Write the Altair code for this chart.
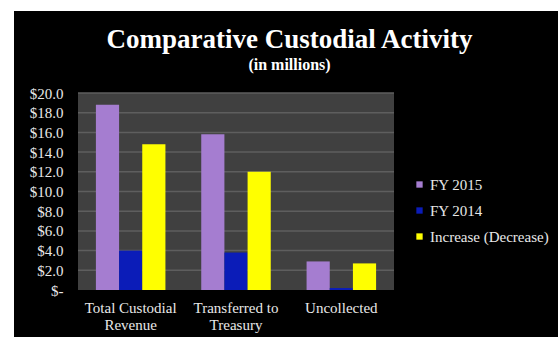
import altair as alt
import pandas as pd

categories = ["Total Custodial\nRevenue", "Transferred to\nTreasury", "Uncollected"]
series = ["FY 2015", "FY 2014", "Increase (Decrease)"]
fy2015 = [18.8, 15.8, 2.9]
fy2014 = [4.0, 3.8, 0.2]
increase = [14.8, 12.0, 2.7]
colors = ["#a57dd0", "#0b1cb8", "#ffff00"]
y_ticks = [0, 2, 4, 6, 8, 10, 12, 14, 16, 18, 20]
title_text = "Comparative Custodial Activity"
subtitle_text = "(in millions)"

rows = []
for i, c in enumerate(categories):
    for s, vals in zip(series, [fy2015, fy2014, increase]):
        rows.append({"category": c, "series": s, "value": vals[i]})
df = pd.DataFrame(rows)

W, H = 316, 197
FONT = "Liberation Serif"
TXT = "#e8e8e8"

one = pd.DataFrame({"k": [0]})

y_axis = alt.Axis(
    values=y_ticks,
    labelExpr="datum.value == 0 ? '$-' : '$' + format(datum.value, '.1f')",
    labelFont=FONT,
    labelFontSize=15,
    labelColor=TXT,
    labelPadding=15,
    ticks=False,
    domain=False,
    grid=False,
    zindex=1,
)
y_scale = alt.Scale(domain=[0, 20], nice=False)

black_bg = alt.Chart(one).mark_rect(color="black").encode(
    x=alt.value(-64), x2=alt.value(480), y=alt.value(-82), y2=alt.value(260)
)
plot_bg = alt.Chart(one).mark_rect(color="#404040").encode(
    x=alt.value(0), x2=alt.value(W), y=alt.value(0), y2=alt.value(H)
)
grid = alt.Chart(pd.DataFrame({"v": y_ticks[1:]})).mark_rule(
    color="#5e5e5e", strokeWidth=1.5
).encode(y=alt.Y("v:Q", axis=y_axis, title=None, scale=y_scale))

bars = alt.Chart(df).mark_bar().encode(
    x=alt.X(
        "category:N",
        sort=categories,
        title=None,
        scale=alt.Scale(paddingInner=0.34, paddingOuter=0.17),
        axis=alt.Axis(
            labelExpr="split(datum.label, '\\n')",
            labelAngle=0,
            labelFont=FONT,
            labelFontSize=15,
            labelColor=TXT,
            labelLineHeight=17,
            labelPadding=10,
            ticks=False,
            domain=False,
            zindex=1,
        ),
    ),
    xOffset=alt.XOffset("series:N", sort=series, scale=alt.Scale(paddingInner=0, paddingOuter=0)),
    y=alt.Y("value:Q", title=None, scale=y_scale, axis=y_axis),
    color=alt.Color(
        "series:N",
        sort=series,
        scale=alt.Scale(domain=series, range=colors),
        legend=alt.Legend(
            title=None,
            orient="none",
            legendX=334,
            legendY=84,
            symbolType="square",
            symbolSize=40,
            symbolStrokeWidth=0,
            labelFont=FONT,
            labelFontSize=15,
            labelColor=TXT,
            labelOffset=3,
            rowPadding=10,
            padding=0,
        ),
    ),
)

title = alt.Chart(pd.DataFrame({"t": [title_text]})).mark_text(
    font=FONT, fontSize=27, fontWeight="bold", color="white", align="center", baseline="alphabetic"
).encode(text="t:N", x=alt.value(211.5), y=alt.value(-45))

subtitle = alt.Chart(pd.DataFrame({"t": [subtitle_text]})).mark_text(
    font=FONT, fontSize=16, fontWeight="bold", color="white", align="center", baseline="alphabetic"
).encode(text="t:N", x=alt.value(211.5), y=alt.value(-23))

chart = alt.layer(black_bg, plot_bg, grid, bars, title, subtitle).properties(
    width=W,
    height=H,
    background="white",
    padding={"left": 78, "top": 93, "right": 164, "bottom": 47},
    autosize=alt.AutoSizeParams(type="none"),
).configure_view(stroke=None)

chart.save("out.html", embed_options={"renderer": "svg", "actions": False})
